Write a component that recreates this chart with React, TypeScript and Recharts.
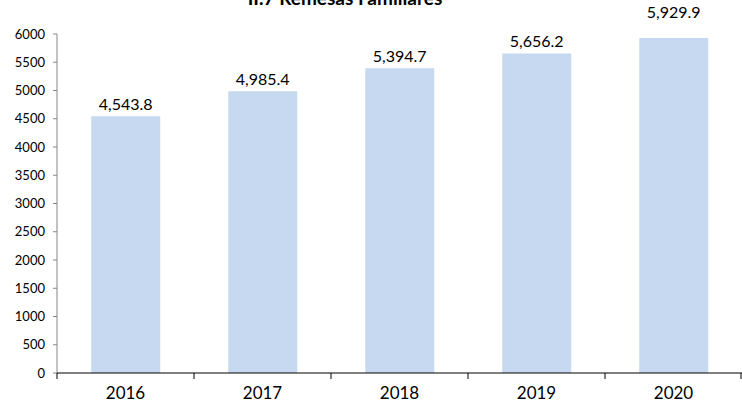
import React from "react";
import { BarChart, Bar, XAxis, YAxis, LabelList } from "recharts";

const years = ["2016", "2017", "2018", "2019", "2020"];
const remesas = [4543.8, 4985.4, 5394.7, 5656.2, 5929.9];
const yTicks = [0, 500, 1000, 1500, 2000, 2500, 3000, 3500, 4000, 4500, 5000, 5500, 6000];
const title = "II.7  Remesas Familiares";

const data = years.map((y, i) => ({ year: y, value: remesas[i] }));

const W = 742;
const H = 406;
const LEFT = 57;
const BAND = (W - LEFT) / years.length;
const FONT = "Lato, 'Open Sans', sans-serif";

const fmt = (v: number) =>
  v.toLocaleString("en-US", { minimumFractionDigits: 1, maximumFractionDigits: 1 });

const XTick = (props: any) => {
  const { x, y, payload, index } = props;
  const last = index === years.length - 1;
  return (
    <g>
      <line x1={x - BAND / 2} x2={x - BAND / 2} y1={y} y2={y + 6} stroke="#000" />
      {last && <line x1={x + BAND / 2 - 1} x2={x + BAND / 2 - 1} y1={y} y2={y + 6} stroke="#000" />}
      <text x={x} y={y + 26} textAnchor="middle" fontSize={17} fill="#000" fontFamily={FONT}>
        {payload.value}
      </text>
    </g>
  );
};

const BarLabel = (props: any) => {
  const { x, y, width, value, index } = props;
  const extra = index === years.length - 1 ? 14 : 0;
  return (
    <text
      x={x + width / 2}
      y={y - 6 - extra}
      textAnchor="middle"
      fontSize={16}
      fill="#000"
      fontFamily={FONT}
    >
      {fmt(Number(value))}
    </text>
  );
};

export default function App() {
  return (
    <div style={{ position: "absolute", left: 0, top: 0, width: W, height: H, background: "#fff" }}>
      <BarChart width={W} height={H} data={data} margin={{ top: 34, right: 0, bottom: 3, left: 0 }} barCategoryGap="25%">
        <text x={345} y={5} textAnchor="middle" fontSize={19} fontWeight="bold" fill="#000" fontFamily={FONT}>
          {title}
        </text>
        <YAxis
          width={LEFT}
          domain={[0, 6000]}
          ticks={yTicks}
          interval={0}
          axisLine={{ stroke: "#868686" }}
          tickLine={{ stroke: "#868686" }}
          tickSize={4}
          tickMargin={8}
          tick={{ fontSize: 13, fill: "#000", fontFamily: FONT }}
        />
        <XAxis
          dataKey="year"
          height={30}
          axisLine={{ stroke: "#000" }}
          tickLine={false}
          tickSize={0}
          tickMargin={0}
          tick={<XTick />}
          interval={0}
        />
        <Bar dataKey="value" fill="#c6d9f0" isAnimationActive={false}>
          <LabelList dataKey="value" content={<BarLabel />} />
        </Bar>
      </BarChart>
    </div>
  );
}
